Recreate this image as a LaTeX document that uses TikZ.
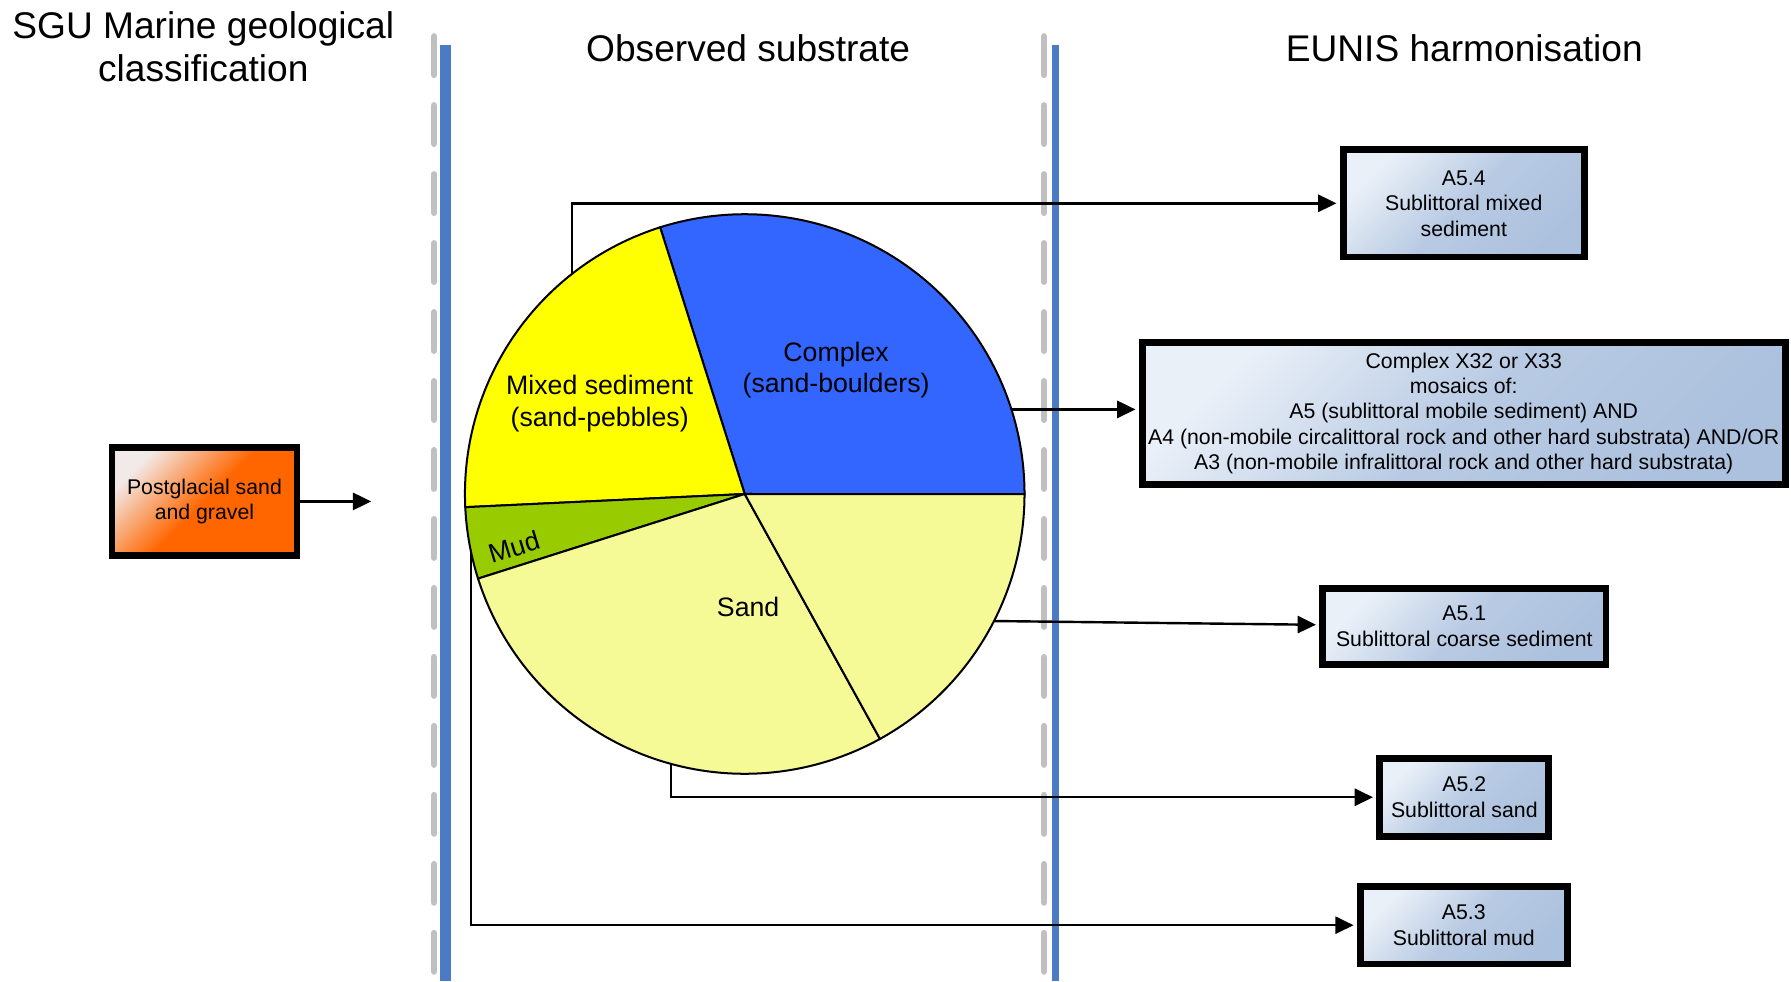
\documentclass[tikz,border=0pt]{standalone}
\usepackage{fontspec}
\setmainfont{Liberation Sans}
\usetikzlibrary{arrows.meta,positioning}
\definecolor{pieblue}{RGB}{51,102,255}
\definecolor{pieyellow}{RGB}{255,255,0}
\definecolor{piegreen}{RGB}{153,204,0}
\definecolor{piesand}{RGB}{245,250,150}
\definecolor{sepblue}{RGB}{74,123,196}
\definecolor{sepgray}{RGB}{192,192,192}
\definecolor{eunislight}{RGB}{234,240,248}
\definecolor{eunisdark}{RGB}{172,193,222}
\definecolor{sguorange}{RGB}{255,102,0}
\definecolor{sgulight}{RGB}{242,234,232}
\tikzstyle{heading} = [font=\fontsize{18.5}{21.6}\selectfont, align=center]
\tikzstyle{pielabel} = [font=\fontsize{13.3}{15.9}\selectfont, align=center]
\tikzstyle{eunis} = [rectangle, draw=black, line width=3.4pt, top color=eunislight, bottom color=eunisdark, middle color=eunisdark!80!eunislight, shading angle=45, align=center, inner sep=1pt, font=\fontsize{10.6}{12.7}\selectfont]
\tikzstyle{sgubox} = [rectangle, draw=black, line width=3.4pt, top color=sgulight, bottom color=sguorange, middle color=sguorange, shading angle=45, align=center, inner sep=1pt, font=\fontsize{10.6}{12.7}\selectfont]
\tikzstyle{sepdash} = [sepgray, line width=0.12cm, line cap=round, dash pattern=on 0.668cm off 0.54cm]
\tikzstyle{slice} = [draw=black, line width=1pt]
\tikzstyle{arrow} = [line width=1.2pt, ->, >={Triangle[length=0.32cm,width=0.3cm]}, shorten >=1.7pt]

\begin{document}
\begin{tikzpicture}[x=0.02cm, y=0.02cm]
\useasboundingbox (0,0) rectangle (1568,859);

% Column headings
\node[heading] (hsgu) at (178,818) {SGU Marine geological\\classification};
\node[heading] (hobs) at (655,817) {Observed substrate};
\node[heading] (heunis) at (1282,817) {EUNIS harmonisation};

% Column separators
\draw[sepdash] (380,827) -- (380,0);
\draw[sepdash] (914,827) -- (914,0);
\draw[sepblue, line width=0.19cm] (390,820) -- (390,0);
\draw[sepblue, line width=0.12cm] (924,820) -- (924,0);

% Pie chart
\coordinate (pc) at (652,426.5);
\fill[slice, fill=pieblue] (pc) -- ++(0:4.9cm) arc[start angle=0, end angle=107.6, radius=4.9cm] -- cycle;
\fill[slice, fill=pieyellow] (pc) -- ++(107.6:4.9cm) arc[start angle=107.6, end angle=182.7, radius=4.9cm] -- cycle;
\fill[slice, fill=piegreen] (pc) -- ++(182.7:4.9cm) arc[start angle=182.7, end angle=197.6, radius=4.9cm] -- cycle;
\fill[slice, fill=piesand] (pc) -- ++(197.6:4.9cm) arc[start angle=197.6, end angle=298.9, radius=4.9cm] -- cycle;
\fill[slice, fill=piesand] (pc) -- ++(298.9:4.9cm) arc[start angle=298.9, end angle=360, radius=4.9cm] -- cycle;
\node[pielabel] (lcpx) at (732,535) {Complex\\(sand-boulders)};
\node[pielabel] (lmix) at (525,506) {Mixed sediment\\(sand-pebbles)};
\node[pielabel, rotate=17] (lmud) at (450,380) {Mud};
\node[pielabel] (lsand) at (655,328) {Sand};

% SGU class
\node[sgubox, minimum width=3.24cm, minimum height=1.88cm] (sgu) at (179,420) {Postglacial sand\\and gravel};
\coordinate (sguend) at (328,420);
\draw[arrow] (sgu) -- (sguend);

% EUNIS classes
\node[eunis, minimum width=4.22cm, minimum height=1.88cm] (a54) at (1281.5,681) {A5.4\\Sublittoral mixed\\sediment};
\node[eunis, minimum width=11.26cm, minimum height=2.48cm] (cpx) at (1281.5,497) {Complex X32 or X33\\mosaics of:\\A5 (sublittoral mobile sediment) AND\\A4 (non-mobile circalittoral rock and other hard substrata) AND/OR\\A3 (non-mobile infralittoral rock and other hard substrata)};
\node[eunis, minimum width=4.96cm, minimum height=1.34cm] (a51) at (1282,310.5) {A5.1\\Sublittoral coarse sediment};
\node[eunis, minimum width=2.96cm, minimum height=1.36cm] (a52) at (1282,161) {A5.2\\Sublittoral sand};
\node[eunis, minimum width=3.62cm, minimum height=1.36cm] (a53) at (1281.5,49) {A5.3\\Sublittoral mud};

% Connectors
\path (pc) ++(128.2:4.9cm) coordinate (p54);
\path (pc) ++(17.6:4.9cm) coordinate (pcx);
\path (pc) ++(-27:4.9cm) coordinate (p51);
\path (pc) ++(254.7:4.9cm) coordinate (p52);
\path (pc) ++(191.9:4.9cm) coordinate (p53);
\draw[arrow] (p54) |- (a54);
\draw[arrow] (pcx) -- (pcx -| cpx.west);
\draw[arrow] (p51) -- (a51);
\draw[arrow] (p52) |- (a52);
\draw[arrow] (p53) |- (a53);
\end{tikzpicture}
\end{document}
